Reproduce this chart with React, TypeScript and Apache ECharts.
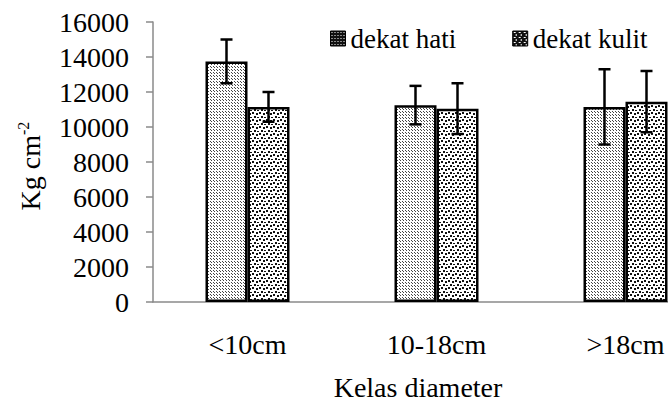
import React, { useEffect, useRef } from "react";
import * as echarts from "echarts";

const categories = ["<10cm", "10-18cm", ">18cm"];
const hatiMean = [13750, 11250, 11150];
const hatiErr = [1250, 1100, 2150];
const kulitMean = [11150, 11050, 11450];
const kulitErr = [850, 1450, 1750];
const yTicks = { min: 0, max: 16000, interval: 2000 };

const FONT = "'Liberation Serif', 'Times New Roman', serif";
const BAR_W = 42;

function makePattern(size: number, bg: string, fg: string, dots: number[][]) {
  const c = document.createElement("canvas");
  c.width = size;
  c.height = size;
  const ctx = c.getContext("2d")!;
  ctx.fillStyle = bg;
  ctx.fillRect(0, 0, size, size);
  ctx.fillStyle = fg;
  dots.forEach(([x, y, w, h]) => ctx.fillRect(x, y, w, h));
  return { image: c, repeat: "repeat" as const };
}

export default function App() {
  const ref = useRef<HTMLDivElement>(null);
  useEffect(() => {
    if (!ref.current) return;
    const chart = echarts.init(ref.current, undefined, { renderer: "svg" });
    const hatiPat = makePattern(3, "#ffffff", "#444444", [[1, 1, 1, 1], [0, 0, 1, 1]]);
    const kulitPat = makePattern(7, "#ffffff", "#111111", [
      [0, 0, 2, 2],
      [4, 1, 2, 2],
      [2, 4, 2, 2],
      [5, 5, 2, 1],
    ]);
    const hatiLeg = makePattern(3, "#111111", "#ffffff", [[1, 1, 1, 1]]);
    const kulitLeg = makePattern(5, "#111111", "#ffffff", [[1, 1, 2, 1], [3, 3, 1, 2]]);

    const errData = (means: number[], errs: number[]) =>
      means.map((m, i) => [i, m - errs[i], m + errs[i]]);

    const errSeries = (means: number[], errs: number[], side: number) => ({
      type: "custom",
      z: 10,
      silent: true,
      data: errData(means, errs),
      encode: { x: 0, y: [1, 2] },
      renderItem: (params: any, api: any) => {
        const idx = api.value(0);
        const lo = api.coord([idx, api.value(1)]);
        const hi = api.coord([idx, api.value(2)]);
        const x = lo[0] + (side * BAR_W) / 2;
        const cap = 6;
        const style = { stroke: "#000", lineWidth: 2.5 };
        return {
          type: "group",
          children: [
            { type: "line", shape: { x1: x, y1: hi[1], x2: x, y2: lo[1] }, style },
            { type: "line", shape: { x1: x - cap, y1: hi[1], x2: x + cap, y2: hi[1] }, style },
            { type: "line", shape: { x1: x - cap, y1: lo[1], x2: x + cap, y2: lo[1] }, style },
          ],
        };
      },
    });

    chart.setOption({
      animation: false,
      backgroundColor: "#ffffff",
      textStyle: { fontFamily: FONT },
      grid: { left: 153, top: 22, height: 280, width: 567, outerBoundsMode: "none", containLabel: false },
      legend: {
        left: 325,
        top: 20,
        itemWidth: 15,
        itemHeight: 15,
        itemGap: 56,
        textStyle: { fontFamily: FONT, fontSize: 27, color: "#000" },
        data: [
          { name: "dekat hati", icon: "rect", itemStyle: { color: hatiLeg, borderColor: "#000", borderWidth: 1 } },
          { name: "dekat kulit", icon: "rect", itemStyle: { color: kulitLeg, borderColor: "#000", borderWidth: 1 } },
        ],
      },
      xAxis: {
        type: "category",
        data: categories,
        axisLine: { lineStyle: { color: "#8a8a8a", width: 1.5 } },
        axisTick: { length: 8, lineStyle: { color: "#8a8a8a", width: 1.5 } },
        axisLabel: { fontFamily: FONT, fontSize: 28, color: "#000", margin: 28 },
      },
      yAxis: {
        type: "value",
        min: yTicks.min,
        max: yTicks.max,
        interval: yTicks.interval,
        splitLine: { show: false },
        axisLine: { show: true, lineStyle: { color: "#8a8a8a", width: 1.5 } },
        axisTick: { show: true, length: 7, lineStyle: { color: "#8a8a8a", width: 1.5 } },
        axisLabel: {
          fontFamily: FONT,
          fontSize: 28,
          color: "#000",
          margin: 24,
          formatter: (v: number) => String(v),
        },
      },
      series: [
        {
          name: "dekat hati",
          type: "bar",
          barWidth: BAR_W,
          barGap: "0%",
          data: hatiMean,
          itemStyle: { color: hatiPat, borderColor: "#000", borderWidth: 2.5 },
        },
        {
          name: "dekat kulit",
          type: "bar",
          barWidth: BAR_W,
          barGap: "0%",
          data: kulitMean,
          itemStyle: { color: kulitPat, borderColor: "#000", borderWidth: 2.5 },
        },
        errSeries(hatiMean, hatiErr, -1),
        errSeries(kulitMean, kulitErr, 1),
      ],
      graphic: [
        {
          type: "text",
          x: 30,
          y: 166,
          rotation: Math.PI / 2,
          style: {
            text: "{a|Kg cm}{b|-2}",
            align: "center",
            verticalAlign: "middle",
            rich: {
              a: { fontFamily: FONT, fontSize: 28, fill: "#000" },
              b: { fontFamily: FONT, fontSize: 16, fill: "#000", padding: [0, 0, 14, 0] },
            },
          },
        },
        {
          type: "text",
          x: 418,
          y: 373,
          style: {
            text: "Kelas diameter",
            fontFamily: FONT,
            fontSize: 28,
            fill: "#000",
            align: "center",
            verticalAlign: "top",
          },
        },
      ],
    });
    return () => chart.dispose();
  }, []);
  return (
    <div
      ref={ref}
      style={{ position: "fixed", left: 0, top: 0, width: 668, height: 399, background: "#fff" }}
    />
  );
}
